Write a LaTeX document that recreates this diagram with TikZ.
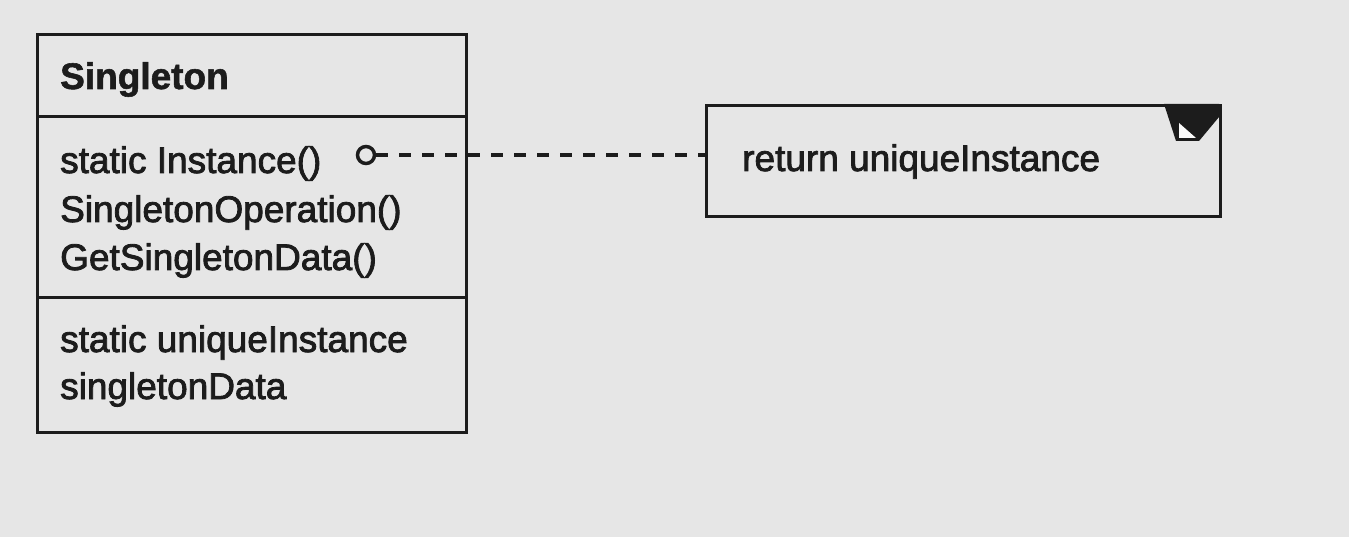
\documentclass[tikz,border=0pt]{standalone}
\usepackage{fontspec}
\setmainfont{Liberation Sans}
\newfontfamily\heavyfont{Liberation Sans}[FakeBold=2.2]
\newfontfamily\heavybold{Liberation Sans Bold}[FakeBold=1.5]
\definecolor{bg}{RGB}{230,230,230}
\definecolor{ink}{RGB}{28,28,28}
\begin{document}
\begin{tikzpicture}[x=1pt,y=-1pt,
  boxline/.style={draw=ink, line width=3pt},
  txt/.style={anchor=base west, inner sep=0pt, text=ink, font=\heavyfont\fontsize{37}{44}\selectfont},
  bold/.style={txt, font=\heavybold\fontsize{37}{44}\selectfont},
  link/.style={draw=ink, line width=4pt, dash pattern=on 12pt off 11pt}]
\fill[bg] (0,0) rectangle (1349,537);
\useasboundingbox (0,0) rectangle (1349,537);
% class box
\node[boxline, minimum width=429pt, minimum height=398pt, anchor=north west, inner sep=0pt] (cls) at (36,33) {};
\coordinate (s1l) at (36,117); \coordinate (s1r) at (465,117);
\coordinate (s2l) at (36,298); \coordinate (s2r) at (465,298);
\draw[boxline] (s1l) -- (s1r);
\draw[boxline] (s2l) -- (s2r);
\node[bold] (name) at (60,89) {Singleton};
\node[txt] (op1) at (60,173) {static Instance()};
\node[txt] (op2) at (60,222) {SingletonOperation()};
\node[txt] (op3) at (60,270) {GetSingletonData()};
\node[txt] (at1) at (60,352) {static uniqueInstance};
\node[txt] (at2) at (60,399) {singletonData};
% note
\node[boxline, minimum width=514pt, minimum height=111pt, anchor=north west, inner sep=0pt] (note) at (705,104) {};
\fill[ink] (1164,104) -- (1219,104) -- (1219,117) -- (1199,141) -- (1176,141) -- cycle;
\fill[white!85!bg] (1179,123) -- (1179,138) -- (1196,138) -- cycle;
\node[txt] (ret) at (742,171) {return uniqueInstance};
% connector
\node[circle, draw=ink, line width=3.5pt, minimum size=17pt, inner sep=0pt] (circ) at (366,155) {};
\draw[link] (circ.east) -- (note.west |- circ.east);
\end{tikzpicture}
\end{document}
